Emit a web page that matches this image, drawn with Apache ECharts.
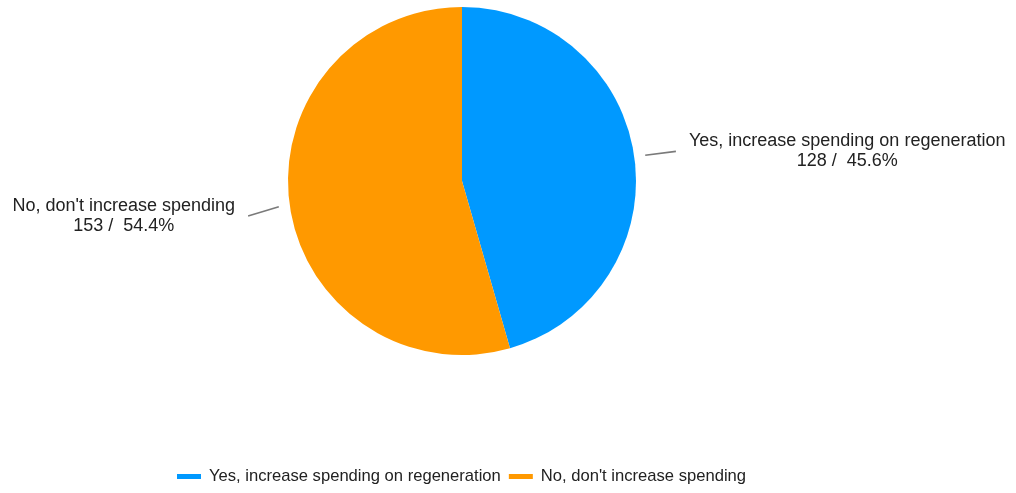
<!DOCTYPE html>
<html>
<head>
<meta charset="utf-8">
<style>
  html, body { margin: 0; padding: 0; background: #fff; }
  #chart { width: 1016px; height: 493px; }
</style>
<script src="https://cdn.jsdelivr.net/npm/echarts@6/dist/echarts.min.js"></script>
</head>
<body>
<div id="chart"></div>
<script>
// Survey responses
const categories = ['Yes, increase spending on regeneration', "No, don't increase spending"];
const counts = [128, 153];
const colors = ['#0099FF', '#FF9900'];

const FONT = '"Liberation Sans", Arial, sans-serif';
const TEXT = '#222222';

const chart = echarts.init(document.getElementById('chart'), null, { renderer: 'canvas' });

chart.setOption({
  animation: false,
  color: colors,
  legend: {
    top: 463,
    left: 172,
    icon: 'rect',
    itemWidth: 24,
    itemHeight: 5,
    itemGap: 8,
    textStyle: { fontFamily: FONT, fontSize: 16.6, color: TEXT, padding: [0, 0, 0, 3] },
    data: categories
  },
  series: [{
    type: 'pie',
    center: [462, 181],
    radius: 174,
    startAngle: 90,
    clockwise: true,
    avoidLabelOverlap: false,
    percentPrecision: 1,
    data: categories.map((name, i) => ({ name, value: counts[i] })),
    label: {
      show: true,
      position: 'outside',
      fontFamily: FONT,
      fontSize: 18,
      lineHeight: 20,
      color: TEXT,
      formatter: p => p.name + '\n' + p.value + ' /  ' + p.percent.toFixed(1) + '%'
    },
    labelLine: {
      show: true,
      length: 42,
      length2: 0,
      lineStyle: { color: '#7a7a7a', width: 1.6 }
    },
    // Short leader detached from the rim, text block centred beside it
    labelLayout: function (p) {
      const pts = p.labelLinePoints;
      if (!pts) return {};
      const a = pts[0], b = pts[1];
      const dx = b[0] - a[0], dy = b[1] - a[1];
      const len = Math.hypot(dx, dy) || 1;
      const start = [a[0] + dx / len * 11, a[1] + dy / len * 11];
      const toRight = dx > 0;
      const end = [b[0], b[1] + (toRight ? 0.5 : 5)];
      const w = p.labelRect.width;
      return {
        x: end[0] + (toRight ? 13 + w / 2 : -13 - w / 2),
        y: end[1],
        align: 'center',
        verticalAlign: 'middle',
        labelLinePoints: [start, end, end]
      };
    }
  }]
});
</script>
</body>
</html>
